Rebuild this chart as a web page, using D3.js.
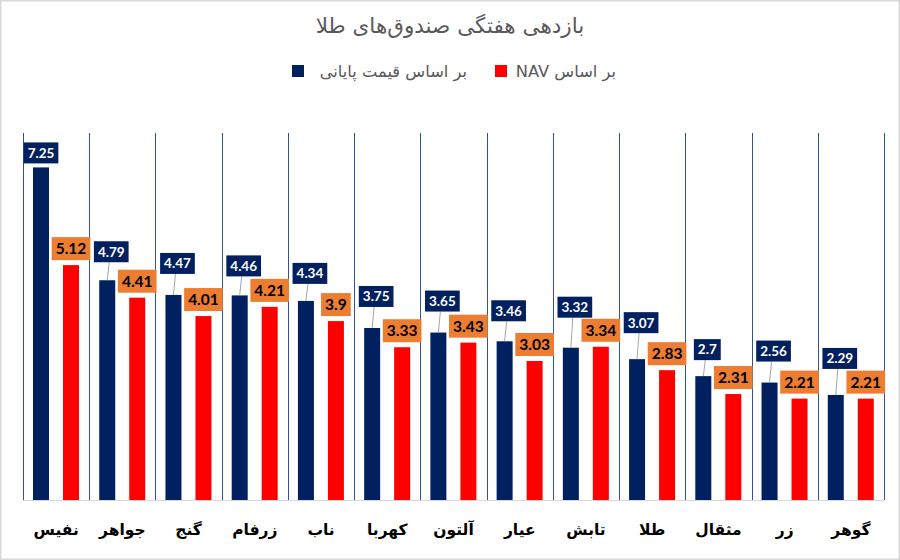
<!DOCTYPE html>
<html><head><meta charset="utf-8">
<script src="https://cdn.jsdelivr.net/npm/d3@7"></script>
<style>body{margin:0;background:#fff}svg{display:block}</style>
</head><body>
<svg id="c" width="900" height="560"></svg>
<script>
const categories = ["نفیس","جواهر","گنج","زرفام","ناب","کهربا","آلتون","عیار","تابش","طلا","مثقال","زر","گوهر"];
const closePrice = [7.25,4.79,4.47,4.46,4.34,3.75,3.65,3.46,3.32,3.07,2.7,2.56,2.29];
const navValues = [5.12,4.41,4.01,4.21,3.9,3.33,3.43,3.03,3.34,2.83,2.31,2.21,2.21];
const seriesNames = ["بر اساس قیمت پایانی","بر اساس NAV"];
const titleText = "بازدهی هفتگی صندوق‌های طلا";

// layout only: how far each blue data label sits above its bar (px)
const blueLabelLift = [4,18,21,19,17,21,21,20,30,26,16,21,26];

const svg = d3.select("#c");
const W = 900, H = 560;
const m = {left:23, right:16, top:133, bottom:60};
const x = d3.scaleBand().domain(categories).range([m.left, W - m.right]).padding(0);
const y = d3.scaleLinear().domain([0, 8]).range([H - m.bottom, m.top]);
const cols = {blue:"#002060", red:"#FF0000", orange:"#ED7D31"};

svg.append("rect").attr("x",0.75).attr("y",0.75).attr("width",W-1.5).attr("height",H-1.5)
  .attr("fill","#fff").attr("stroke","#d9d9d9").attr("stroke-width",1.5);

// title
svg.append("text").attr("x",450).attr("y",33).attr("text-anchor","middle")
  .attr("font-family","DejaVu Sans").attr("font-size",21.5).attr("fill","#595959")
  .attr("direction","rtl").text(titleText);

// legend
const leg = [{c:cols.blue, t:seriesNames[0], sx:292, tx:467},{c:cols.red, t:seriesNames[1], sx:495, tx:616}];
leg.forEach(l=>{
  svg.append("rect").attr("x",l.sx).attr("y",65).attr("width",12).attr("height",12).attr("fill",l.c);
  svg.append("text").attr("x",l.tx).attr("y",77).attr("text-anchor","start").attr("direction","rtl")
    .attr("font-family","DejaVu Sans").attr("font-size",16.3).attr("fill","#595959").text(l.t);
});

// baseline
svg.append("line").attr("x1",m.left).attr("x2",W-m.right).attr("y1",y(0)+0.5).attr("y2",y(0)+0.5)
  .attr("stroke","#d9d9d9").attr("stroke-width",1);

// separators
const seps = categories.map(c=>x(c)).concat([x.range()[1]]);
svg.selectAll("line.sep").data(seps).enter().append("line").attr("class","sep")
  .attr("x1",d=>Math.round(d)+0.5).attr("x2",d=>Math.round(d)+0.5)
  .attr("y1",y(8)).attr("y2",y(0)).attr("stroke","#2F5597").attr("stroke-width",1);

const bw = 16, off1 = 10, off2 = 40;
// bars
svg.selectAll("rect.b").data(closePrice).enter().append("rect")
  .attr("x",(d,i)=>x(categories[i])+off1).attr("width",bw)
  .attr("y",d=>y(d)).attr("height",d=>y(0)-y(d)).attr("fill",cols.blue);
svg.selectAll("rect.r").data(navValues).enter().append("rect")
  .attr("x",(d,i)=>x(categories[i])+off2).attr("width",bw)
  .attr("y",d=>y(d)).attr("height",d=>y(0)-y(d)).attr("fill",cols.red);

const numFont = "Lato";
function label(cx, bottom, txt, bg, fg, h, padX, fs){
  const g = svg.append("g");
  const t = g.append("text").attr("x",cx).attr("y",bottom - h/2 + fs*0.36).attr("text-anchor","middle")
    .attr("font-family",numFont).attr("font-weight","bold").attr("font-size",fs).attr("fill",fg).text(txt);
  const w = t.node().getComputedTextLength() + padX*2;
  g.insert("rect","text").attr("x",cx - w/2).attr("y",bottom - h).attr("width",w).attr("height",h).attr("fill",bg);
}

// blue labels
closePrice.forEach((v,i)=>{
  const bc = x(categories[i]) + off1 + bw/2;
  const top = y(v);
  const lift = blueLabelLift[i];
  if(i===0){
    label(bc, top-lift, String(v), cols.blue, "#fff", 21, 4, 13.5);
  } else {
    svg.append("line").attr("x1",bc+2).attr("y1",top-lift).attr("x2",bc).attr("y2",top)
      .attr("stroke","#a6a6a6").attr("stroke-width",1);
    label(bc+4, top-lift, String(v), cols.blue, "#fff", 21, 4, 13.5);
  }
});
// orange labels
navValues.forEach((v,i)=>{
  const bc = x(categories[i]) + off2 + bw/2;
  label(bc, y(v)-5, String(v), cols.orange, "#000", 23, 4, 15.5);
});

// x labels
svg.selectAll("text.xl").data(categories).enter().append("text")
  .attr("x",d=>x(d)+x.bandwidth()/2).attr("y",535).attr("text-anchor","middle").attr("direction","rtl")
  .attr("font-family","DejaVu Sans").attr("font-weight","bold").attr("font-size",15.5).attr("fill","#000").text(d=>d);
</script>
</body></html>
